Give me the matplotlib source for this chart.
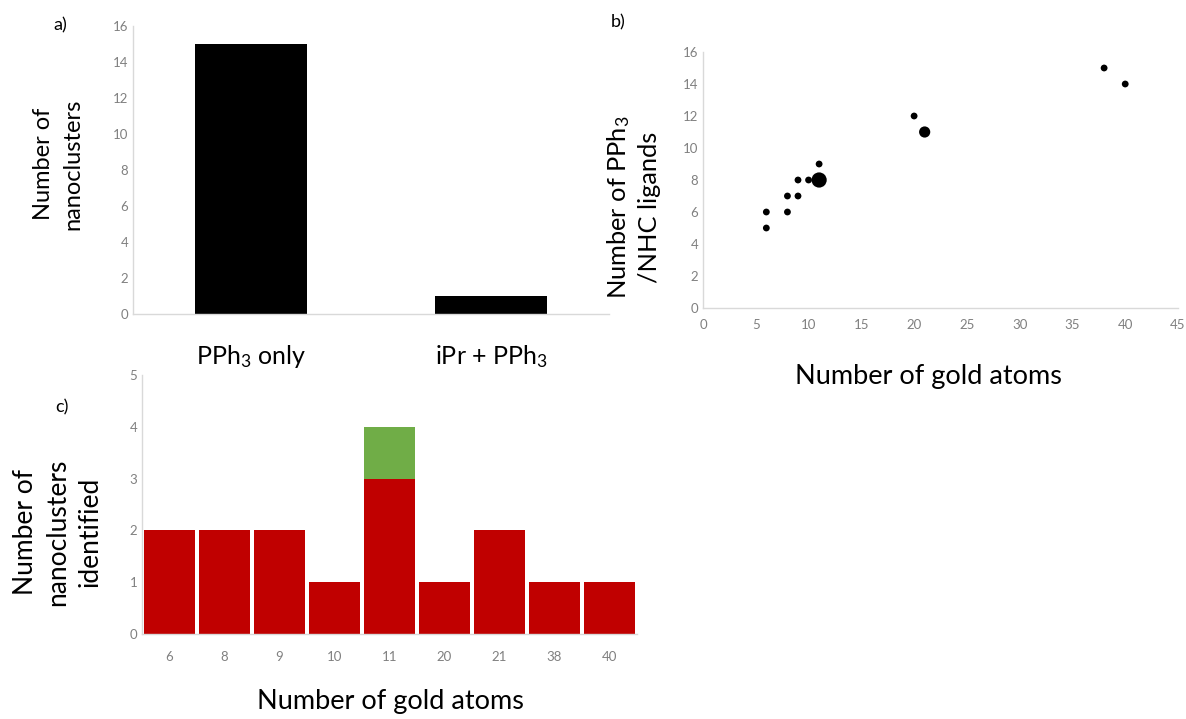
import matplotlib
matplotlib.use("Agg")
import matplotlib.pyplot as plt
import numpy as np

plt.rcParams['font.family'] = ['Lato', 'DejaVu Sans']
plt.rcParams['mathtext.default'] = 'regular'

# Panel a data
a_categories = ['PPh$_3$ only', 'iPr + PPh$_3$']
a_values = [15, 1]

# Panel b data (gold atoms, ligands, number of clusters at that point)
b_gold = [6, 6, 8, 8, 9, 9, 10, 11, 11, 20, 21, 38, 40]
b_ligands = [6, 5, 7, 6, 8, 7, 8, 9, 8, 12, 11, 15, 14]
b_counts = [1, 1, 1, 1, 1, 1, 1, 1, 3, 1, 2, 1, 1]

# Panel c data
c_categories = ['6', '8', '9', '10', '11', '20', '21', '38', '40']
c_pph3 = [2, 2, 2, 1, 3, 1, 2, 1, 1]
c_nhc = [0, 0, 0, 0, 1, 0, 0, 0, 0]

RED = '#C00000'
GREEN = '#70AD47'
TICK = '#808080'
SPINE = '#D9D9D9'

W, H = 1186, 719
fig = plt.figure(figsize=(W / 100, H / 100), dpi=100)


def ax_px(l, r, t, b):
    return fig.add_axes([l / W, 1 - b / H, (r - l) / W, (b - t) / H])


def ftext(x, y, s, **kw):
    return fig.text(x / W, 1 - y / H, s, ha='center', va='center', **kw)


def style(ax):
    for s in ['top', 'right']:
        ax.spines[s].set_visible(False)
    for s in ['left', 'bottom']:
        ax.spines[s].set_color(SPINE)
        ax.spines[s].set_linewidth(1.0)
    ax.tick_params(length=0, colors=TICK, labelsize=9.5)


# ---- Panel a ----
ax1 = ax_px(133, 609, 26, 314)
xa = np.arange(len(a_categories))
ax1.bar(xa, a_values, width=0.467, color='black')
ax1.set_xlim(-0.49, 1.49)
ax1.set_ylim(0, 16)
ax1.set_yticks(range(0, 17, 2))
ax1.set_xticks(xa)
ax1.set_xticklabels(a_categories)
style(ax1)
ax1.tick_params(axis='x', colors='black', labelsize=18, pad=21)
ftext(58, 164, 'Number of\nnanoclusters', fontsize=17, rotation=90,
      linespacing=1.5, multialignment='center')
ftext(60, 25, 'a)', fontsize=13)

# ---- Panel b ----
ax2 = ax_px(703, 1178, 52, 308)
size_map = {1: 24, 2: 65, 3: 120}
sizes = [size_map[c] for c in b_counts]
ax2.scatter(b_gold, b_ligands, s=sizes, color='black', edgecolors='none', zorder=3)
ax2.set_xlim(0, 45)
ax2.set_ylim(0, 16)
ax2.set_xticks(range(0, 46, 5))
ax2.set_yticks(range(0, 17, 2))
style(ax2)
ax2.tick_params(axis='x', pad=8)
ftext(928, 377, 'Number of gold atoms', fontsize=19.5)
ftext(633, 207, 'Number of PPh$_3$\n/NHC ligands', fontsize=18.3, rotation=90,
      linespacing=1.3, multialignment='center')
ftext(618, 22, 'b)', fontsize=13)

# ---- Panel c ----
ax3 = ax_px(142, 637, 375, 634)
xc = np.arange(len(c_categories))
ax3.bar(xc, c_pph3, width=0.91, color=RED)
ax3.bar(xc, c_nhc, width=0.91, bottom=c_pph3, color=GREEN)
ax3.set_xlim(-0.5, len(c_categories) - 0.5)
ax3.set_ylim(0, 5)
ax3.set_yticks(range(0, 6))
ax3.set_xticks(xc)
ax3.set_xticklabels(c_categories)
style(ax3)
ax3.tick_params(axis='x', pad=12)
ftext(390, 702, 'Number of gold atoms', fontsize=19.5)
ftext(58, 532, 'Number of\nnanoclusters\nidentified', fontsize=19, rotation=90,
      linespacing=1.36, multialignment='center')
ftext(62, 407, 'c)', fontsize=13)

fig.savefig('out.png', dpi=100)
